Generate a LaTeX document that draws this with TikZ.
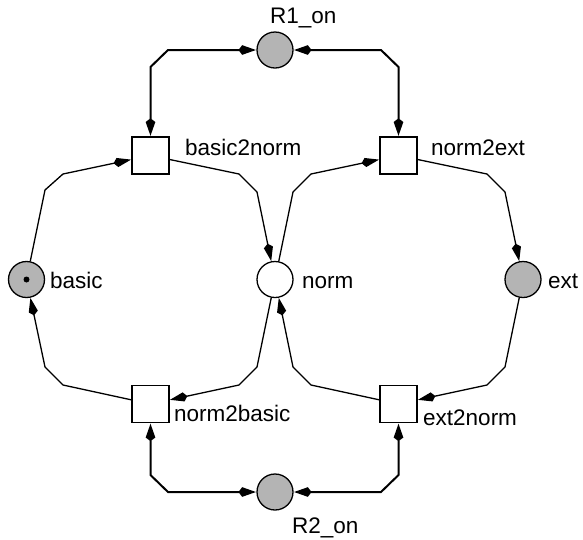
\documentclass[tikz,border=0pt]{standalone}
\usepackage{fontspec}
\setmainfont{Liberation Sans}
\usetikzlibrary{arrows.meta}
\definecolor{placegray}{RGB}{180,180,180}
\begin{document}
\begin{tikzpicture}[x=1pt,y=-1pt,
  pnplace/.style={circle,draw,line width=1.3pt,minimum size=36pt,inner sep=0pt,fill=white},
  pnres/.style={pnplace,fill=placegray},
  pntrans/.style={rectangle,draw,line width=1.6pt,minimum size=37pt,inner sep=0pt,fill=white},
  pntoken/.style={circle,fill=black,minimum size=6pt,inner sep=0pt},
  pnlabel/.style={anchor=base west,inner sep=0pt,font=\fontsize{22.5}{26}\selectfont},
  pnhead/.tip={Stealth[length=14pt,width=8.5pt,inset=-4pt]},
  flow/.style={line width=1.3pt,-pnhead},
  biflow/.style={line width=2pt,pnhead-pnhead}]
\useasboundingbox (0,0) rectangle (583,539);

% places
\node[pnres]   (basic) at (26.5,279.5) {};
\node[pntoken] (tok)   at (basic.center) {};
\node[pnplace] (norm)  at (275,279.5) {};
\node[pnres]   (ext)   at (523,279.5) {};
\node[pnres]   (R1)    at (275,50) {};
\node[pnres]   (R2)    at (275,492) {};

% transitions
\node[pntrans] (b2n) at (150.5,155.5) {};
\node[pntrans] (n2e) at (398.5,155.5) {};
\node[pntrans] (n2b) at (150.5,404) {};
\node[pntrans] (e2n) at (398.5,404) {};

% labels
\node[pnlabel] (lR1)  at (270,23)  {R1\_on};
\node[pnlabel] (lb2n) at (185,155) {basic2norm};
\node[pnlabel] (ln2e) at (431,155) {norm2ext};
\node[pnlabel] (lbas) at (50,288)  {basic};
\node[pnlabel] (lnrm) at (302,288) {norm};
\node[pnlabel] (lext) at (548,288) {ext};
\node[pnlabel] (ln2b) at (174,421) {norm2basic};
\node[pnlabel] (le2n) at (423,425) {ext2norm};
\node[pnlabel] (lR2)  at (292,533) {R2\_on};

% mode cycle
\draw[flow] (basic) -- (45,190) -- (63,174) -- (b2n);
\draw[flow] (b2n) -- (239,174) -- (257,192) -- (norm);
\draw[flow] (norm) -- (293,192) -- (311,174) -- (n2e);
\draw[flow] (n2e) -- (487,174) -- (505,192) -- (ext);
\draw[flow] (ext) -- (505,367) -- (487,385) -- (e2n);
\draw[flow] (e2n) -- (311,385) -- (293,367) -- (norm);
\draw[flow] (norm) -- (257,367) -- (239,385) -- (n2b);
\draw[flow] (n2b) -- (63,385) -- (45,367) -- (basic);

% resource loops
\draw[biflow] (b2n) -- (150.5,67) -- (168,50) -- (R1);
\draw[biflow] (n2e) -- (398.5,67) -- (381,50) -- (R1);
\draw[biflow] (n2b) -- (150.5,475) -- (168,492) -- (R2);
\draw[biflow] (e2n) -- (398.5,475) -- (381,492) -- (R2);
\end{tikzpicture}
\end{document}
